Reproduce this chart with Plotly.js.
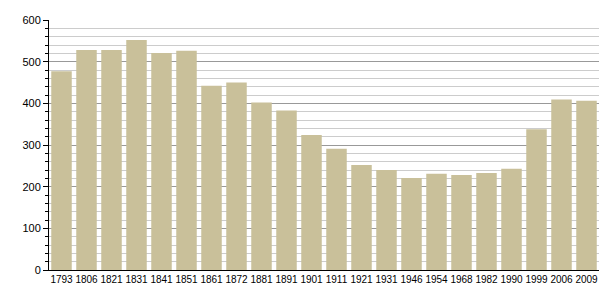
<!DOCTYPE html>
<html>
<head>
<meta charset="utf-8">
<script src="https://cdn.plot.ly/plotly-3.0.1.min.js"></script>
<style>html,body{margin:0;padding:0;background:#fff;}#chart{width:605px;height:300px;}</style>
</head>
<body>
<div id="chart"></div>
<script>
const years = ["1793","1806","1821","1831","1841","1851","1861","1872","1881","1891","1901","1911","1921","1931","1946","1954","1968","1982","1990","1999","2006","2009"];
const population = [477,528,528,552,521,526,442,450,402,383,324,291,252,240,221,231,228,233,243,338,409,406];

const trace = {
  type: 'bar',
  x: years,
  y: population,
  marker: {color: '#c9c09a', line: {width: 0}},
  hoverinfo: 'x+y'
};

const layout = {
  width: 605,
  height: 300,
  margin: {l: 49, r: 6, t: 20, b: 30},
  paper_bgcolor: '#ffffff',
  plot_bgcolor: '#ffffff',
  bargap: 0.18,
  showlegend: false,
  font: {family: 'Liberation Sans, Arial, sans-serif', size: 11, color: '#000'},
  xaxis: {
    type: 'category',
    showline: true,
    linecolor: '#000',
    linewidth: 1,
    ticks: '',
    tickangle: 0,
    showgrid: false,
    tickfont: {size: 10},
    fixedrange: true
  },
  yaxis: {
    range: [0, 600],
    dtick: 100,
    tick0: 0,
    showline: true,
    linecolor: '#000',
    linewidth: 1,
    ticks: 'outside',
    ticklen: 5,
    tickcolor: '#000',
    showgrid: true,
    gridcolor: '#999999',
    gridwidth: 1,
    zeroline: false,
    tickfont: {size: 11},
    minor: {dtick: 20, showgrid: true, gridcolor: '#cccccc', gridwidth: 1, ticks: 'outside', ticklen: 3, tickcolor: '#000'},
    fixedrange: true
  }
};

Plotly.newPlot('chart', [trace], layout, {displayModeBar: false, staticPlot: true});
</script>
</body>
</html>
